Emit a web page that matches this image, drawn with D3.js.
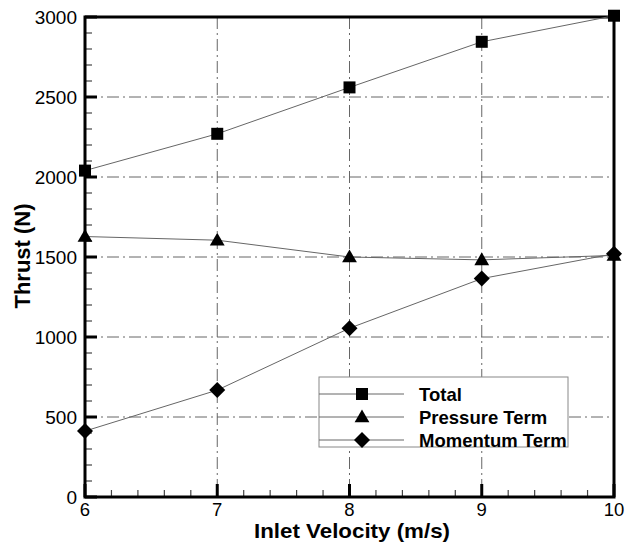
<!DOCTYPE html>
<html><head><meta charset="utf-8">
<script src="https://cdn.jsdelivr.net/npm/d3@7"></script>
<style>body{margin:0;background:#fff}svg{display:block}text{font-family:"Liberation Sans",Arial,sans-serif}</style>
</head><body><svg id="c" width="625" height="546"></svg>
<script>
const velocity = [6, 7, 8, 9, 10];
const totalThrust = [2040, 2270, 2560, 2845, 3008];
const pressureTerm = [1628, 1605, 1500, 1482, 1510];
const momentumTerm = [412, 668, 1055, 1365, 1520];
const xTicks = [6, 7, 8, 9, 10];
const yTicks = [0, 500, 1000, 1500, 2000, 2500, 3000];
const seriesNames = ["Total", "Pressure Term", "Momentum Term"];
const markers = ["square", "triangle", "diamond"];

const svg = d3.select("#c");
const L = 85, R = 614, T = 17, B = 497;
const x = d3.scaleLinear().domain([6, 10]).range([L, R]);
const y = d3.scaleLinear().domain([0, 3000]).range([B, T]);

// grid
const grid = svg.append("g").attr("stroke", "#666").attr("stroke-width", 1).attr("stroke-dasharray", "12,4,2,4");
grid.selectAll(".gx").data(xTicks.slice(1, -1)).join("line")
  .attr("x1", d => x(d)).attr("x2", d => x(d)).attr("y1", T).attr("y2", B);
grid.selectAll(".gy").data(yTicks.slice(1)).join("line")
  .attr("x1", L).attr("x2", R).attr("y1", d => y(d)).attr("y2", d => y(d));

// axes
const minorY = d3.range(0, 3001, 100);
const minorX = d3.range(6, 10.001, 0.2);
const isMajX = d => Math.abs(d - Math.round(d)) < 1e-6;
const ax = svg.append("g").attr("stroke", "#000");
ax.selectAll(".my").data(minorY).join("line")
  .attr("x1", L).attr("x2", d => L + (d % 500 === 0 ? 12 : 7)).attr("y1", d => y(d)).attr("y2", d => y(d))
  .attr("stroke-width", d => d % 500 === 0 ? 3 : 1.2).attr("stroke", d => d % 500 === 0 ? "#000" : "#444");
ax.selectAll(".mx").data(minorX).join("line")
  .attr("y1", B).attr("y2", d => B - (isMajX(d) ? 13 : 7)).attr("x1", d => x(d)).attr("x2", d => x(d))
  .attr("stroke-width", d => isMajX(d) ? 3 : 1.2).attr("stroke", d => isMajX(d) ? "#000" : "#444");
svg.append("rect").attr("x", L).attr("y", T).attr("width", R - L).attr("height", B - T)
  .attr("fill", "none").attr("stroke", "#000").attr("stroke-width", 3);

// tick labels
svg.append("g").selectAll("text").data(yTicks).join("text")
  .attr("x", L - 8).attr("y", d => y(d)).attr("dy", "0.36em").attr("text-anchor", "end")
  .attr("font-size", 19).text(d => d);
svg.append("g").selectAll("text").data(xTicks).join("text")
  .attr("x", d => x(d)).attr("y", 516).attr("text-anchor", "middle")
  .attr("font-size", 18.5).text(d => d);

svg.append("text").attr("x", 352).attr("y", 538).attr("text-anchor", "middle")
  .attr("font-size", 21).attr("font-weight", "bold")
  .attr("textLength", 196).attr("lengthAdjust", "spacingAndGlyphs").text("Inlet Velocity (m/s)");
svg.append("text").attr("transform", `translate(30,256) rotate(-90)`).attr("text-anchor", "middle")
  .attr("font-size", 22).attr("font-weight", "bold").text("Thrust (N)");

// series
const series = [totalThrust, pressureTerm, momentumTerm];
const line = d3.line().x((d, i) => x(velocity[i])).y(d => y(d));
function sym(type) {
  if (type === "square") return d3.symbol(d3.symbolSquare, 144)();
  if (type === "triangle") return d3.symbol(d3.symbolTriangle, 95)();
  return "M0,-8L8,0L0,8L-8,0Z";
}
series.forEach((s, k) => {
  svg.append("path").datum(s).attr("d", line).attr("fill", "none").attr("stroke", "#666").attr("stroke-width", 1);
});
series.forEach((s, k) => {
  svg.append("g").selectAll("path").data(s).join("path")
    .attr("transform", (d, i) => `translate(${x(velocity[i])},${y(d) + (markers[k] === "triangle" ? 1 : 0)})`)
    .attr("d", sym(markers[k])).attr("fill", "#000");
});

// legend
const lg = svg.append("g");
lg.append("rect").attr("x", 319).attr("y", 377).attr("width", 249).attr("height", 70)
  .attr("fill", "#fff").attr("stroke", "#888").attr("stroke-width", 1);
seriesNames.forEach((n, k) => {
  const yy = 394 + k * 23;
  lg.append("line").attr("x1", 319).attr("x2", 404).attr("y1", yy).attr("y2", yy).attr("stroke", "#666");
  lg.append("path").attr("transform", `translate(362,${yy + (markers[k] === "triangle" ? 1 : 0)})`).attr("d", sym(markers[k])).attr("fill", "#000");
  lg.append("text").attr("x", 419).attr("y", yy).attr("dy", "0.36em").attr("font-size", 18.5).attr("font-weight", "bold").text(n);
});
</script></body></html>
